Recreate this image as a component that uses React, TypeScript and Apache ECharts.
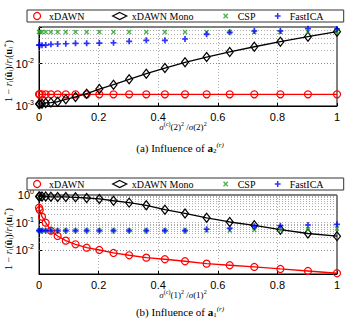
import React, { useEffect, useRef } from 'react';
import * as echarts from 'echarts';

// x positions (sigma ratio)
const xValues = [0, 0.0025, 0.01, 0.0225, 0.04, 0.0625, 0.09, 0.1225, 0.16, 0.2025, 0.25, 0.3025, 0.36, 0.4225, 0.49, 0.5625, 0.64, 0.7225, 0.81, 0.9025, 1];

// (a) Influence of a2
const aXdawn = [0.00188, 0.00188, 0.00188, 0.00188, 0.00188, 0.00188, 0.00188, 0.00188, 0.00188, 0.00188, 0.00188, 0.00188, 0.00188, 0.00188, 0.00188, 0.00188, 0.00188, 0.00188, 0.00188, 0.00188, 0.00188];
const aMono = [0.00111, 0.00111, 0.00113, 0.00118, 0.0012, 0.00126, 0.00144, 0.00163, 0.00195, 0.00251, 0.00317, 0.00425, 0.00575, 0.00783, 0.0107, 0.0142, 0.0187, 0.0248, 0.0326, 0.0428, 0.056];
const aCsp = [0.055, 0.055, 0.055, 0.055, 0.055, 0.055, 0.055, 0.055, 0.055, 0.055, 0.055, 0.055, 0.055, 0.055, 0.055, 0.055, 0.055, 0.055, 0.055, 0.055, 0.056];
const aIca = [0.027, 0.027, 0.0268, 0.0272, 0.0283, 0.0288, 0.0292, 0.0299, 0.0299, 0.0303, 0.0308, 0.0333, 0.0351, 0.0351, 0.0377, 0.0486, 0.0542, 0.0582, 0.0582, 0.0659, 0.0649];

// (b) Influence of a1
const bXdawn = [0.348, 0.287, 0.165, 0.1, 0.0514, 0.0331, 0.0224, 0.0166, 0.0125, 0.0103, 0.00805, 0.00665, 0.00545, 0.00477, 0.00404, 0.00331, 0.0029, 0.00252, 0.00213, 0.0018, 0.00149];
const bMono = [0.88, 0.88, 0.88, 0.88, 0.86, 0.85, 0.85, 0.826, 0.78, 0.72, 0.62, 0.53, 0.425, 0.294, 0.215, 0.15, 0.106, 0.0805, 0.0559, 0.0407, 0.0326];
const bCsp = [0.052, 0.052, 0.052, 0.052, 0.052, 0.052, 0.052, 0.052, 0.052, 0.052, 0.052, 0.052, 0.052, 0.052, 0.052, 0.052, 0.052, 0.0546, 0.053, 0.0568, 0.062];
const bIca = [0.0514, 0.0514, 0.0514, 0.0514, 0.0514, 0.0514, 0.0514, 0.0514, 0.0514, 0.0514, 0.0514, 0.0514, 0.0514, 0.0514, 0.0514, 0.0578, 0.0628, 0.075, 0.078, 0.0826, 0.0875];

const seriesNames = ['xDAWN', 'xDAWN Mono', 'CSP', 'FastICA'];
const xTicks = [0, 0.2, 0.4, 0.6, 0.8, 1];
const minorMultipliers = [2, 3, 4, 5, 6, 7, 8, 9];
const decades = [0.001, 0.01, 0.1];

const RED = '#ff0000';
const BLACK = '#000000';
const GREEN = '#1ea01e';
const BLUE = '#0000ff';
const X_ICON = 'path://M0,0L10,10M10,0L0,10';
const PLUS_ICON = 'path://M5,0L5,10M0,5L10,5';
const X_LEGEND = 'path://M-3,-3L-3,-3M13,13L13,13M0,0L10,10M10,0L0,10';
const PLUS_LEGEND = 'path://M-1,-1L-1,-1M11,11L11,11M5,0L5,10M0,5L10,5';

const pairs = (ys: number[]) => xValues.map((x, i) => [x, ys[i]]);

function minorLines(min: number, max: number) {
  const out: { yAxis: number }[] = [];
  decades.forEach((d) => minorMultipliers.forEach((m) => {
    const v = +(d * m).toPrecision(6);
    if (v > min && v < max) out.push({ yAxis: v });
  }));
  return out;
}

const gridLine = { color: '#8a8a8a', type: [1, 2] as number[], width: 0.7 };

function yLabelFormatter(v: number) {
  const e = Math.log10(v);
  const r = Math.round(e);
  if (Math.abs(e - r) > 1e-6) return '';
  return `{b|10}{s|${r}}`;
}

const App: React.FC = () => {
  const ref = useRef<HTMLDivElement>(null);

  useEffect(() => {
    if (!ref.current) return;
    const chart = echarts.init(ref.current, undefined, { renderer: 'svg' });

    const plots = [
      { top: 27, ymin: 0.001, ymax: 0.0723, data: [aXdawn, aMono, aCsp, aIca], idx: '2', legendTop: 10, caption: '(a)', capY: 148 },
      { top: 195, ymin: 0.0014, ymax: 1, data: [bXdawn, bMono, bCsp, bIca], idx: '1', legendTop: 178, caption: '(b)', capY: 312 },
    ];

    const legendWidths: Record<string, number> = { 'xDAWN': 63, 'xDAWN Mono': 88, 'CSP': 34, 'FastICA': 46 };
    const legendKeys: Record<string, string> = { 'xDAWN': 'w0', 'xDAWN Mono': 'w1', 'CSP': 'w2', 'FastICA': 'w3' };
    const legendRich: any = {};
    seriesNames.forEach((n) => {
      legendRich[legendKeys[n]] = { width: legendWidths[n], fontSize: 10, fontFamily: 'Liberation Serif', color: '#000', lineHeight: 10 };
    });

    const legendData = [
      { name: seriesNames[0], icon: 'circle', itemStyle: { color: 'transparent', borderColor: RED, borderWidth: 1.2 } },
      { name: seriesNames[1], icon: 'diamond', itemStyle: { color: 'transparent', borderColor: BLACK, borderWidth: 1.2 } },
      { name: seriesNames[2], icon: X_LEGEND, itemStyle: { color: 'none', borderColor: GREEN, borderWidth: 1.4 } },
      { name: seriesNames[3], icon: PLUS_LEGEND, itemStyle: { color: 'none', borderColor: BLUE, borderWidth: 1.5 } },
    ];

    const supRich = {
      n: { fontSize: 9, fontFamily: 'Liberation Serif', color: '#000', lineHeight: 12 },
      i: { fontSize: 9, fontFamily: 'Liberation Serif', fontStyle: 'italic', color: '#000', lineHeight: 12 },
      s: { fontSize: 6, fontFamily: 'Liberation Serif', fontStyle: 'italic', color: '#000', lineHeight: 7, verticalAlign: 'top' },
      p: { fontSize: 6, fontFamily: 'Liberation Serif', color: '#000', lineHeight: 7, verticalAlign: 'top' },
    };

    const series: any[] = [];
    plots.forEach((p, gi) => {
      series.push({
        name: seriesNames[0], type: 'line', xAxisIndex: gi, yAxisIndex: gi, data: pairs(p.data[0]),
        symbol: 'circle', symbolSize: 7, showAllSymbol: true,
        itemStyle: { color: 'transparent', borderColor: RED, borderWidth: 1.2 },
        lineStyle: { color: RED, width: 1.3 }, z: 3,
      });
      series.push({
        name: seriesNames[1], type: 'line', xAxisIndex: gi, yAxisIndex: gi, data: pairs(p.data[1]),
        symbol: 'diamond', symbolSize: [7, 9], showAllSymbol: true,
        itemStyle: { color: 'transparent', borderColor: BLACK, borderWidth: 1.2 },
        lineStyle: { color: BLACK, width: 1.3 }, z: 4,
      });
      series.push({
        name: seriesNames[2], type: 'scatter', xAxisIndex: gi, yAxisIndex: gi, data: pairs(p.data[2]),
        symbol: X_ICON, symbolSize: 4,
        itemStyle: { color: 'none', borderColor: GREEN, borderWidth: 1.4 }, z: 5,
      });
      series.push({
        name: seriesNames[3], type: 'scatter', xAxisIndex: gi, yAxisIndex: gi, data: pairs(p.data[3]),
        symbol: PLUS_ICON, symbolSize: 6,
        itemStyle: { color: 'none', borderColor: BLUE, borderWidth: 1.7 }, z: 6,
      });
      series.push({
        type: 'line', xAxisIndex: gi, yAxisIndex: gi, data: [], silent: true,
        markLine: {
          silent: true, symbol: ['none', 'none'], label: { show: false }, z: 1,
          lineStyle: gridLine, emphasis: { disabled: true },
          data: minorLines(p.ymin, p.ymax),
        },
      });
    });

    chart.setOption({
      animation: false,
      grid: plots.map((p) => ({
        left: 39, right: 12, top: p.top, height: 79, show: true,
        containLabel: false, outerBoundsMode: 'none',
        borderColor: '#000', borderWidth: 1, backgroundColor: 'transparent',
      })),
      legend: plots.map((p) => ({
        top: p.legendTop, left: 27, orient: 'horizontal', itemGap: 0,
        itemWidth: 14, itemHeight: 7, padding: [0, 8, 0, 6],
        borderColor: '#333', borderWidth: 1, backgroundColor: '#fff',
        selectedMode: false, data: legendData,
        formatter: (name: string) => `{${legendKeys[name]}|${name}}`,
        textStyle: { fontFamily: 'Liberation Serif', fontSize: 10, color: '#000', rich: legendRich },
      })),
      xAxis: plots.map((p, gi) => ({
        type: 'value', gridIndex: gi, min: 0, max: 1, interval: 0.2,
        axisLine: { show: true, lineStyle: { color: '#000', width: 1 } },
        axisTick: { show: true, inside: true, length: 3, lineStyle: { color: '#000' } },
        axisLabel: {
          color: '#000', fontSize: 11, fontFamily: 'Liberation Sans', margin: 5,
          formatter: (v: number) => (xTicks.includes(+v.toFixed(4)) ? String(+v.toFixed(4)) : ''),
        },
        splitLine: { show: true, lineStyle: gridLine },
        name: `{i|σ}{p|(c)}{n|(${p.idx})}{p|2}{n| /}{i|σ}{n|(${p.idx})}{p|2}`,
        nameLocation: 'middle', nameGap: 15, nameMoveOverlap: false,
        nameTextStyle: { rich: supRich, padding: [0, 10, 0, 0] },
      })),
      yAxis: plots.map((p, gi) => ({
        type: 'log', logBase: 10, gridIndex: gi, min: p.ymin, max: p.ymax,
        axisLine: { show: true, lineStyle: { color: '#000', width: 1 } },
        axisTick: { show: true, inside: true, length: 3, lineStyle: { color: '#000' } },
        axisLabel: {
          margin: 5, formatter: yLabelFormatter,
          rich: {
            b: { fontSize: 11, fontFamily: 'Liberation Sans', color: '#000', lineHeight: 14 },
            s: { fontSize: 7, fontFamily: 'Liberation Sans', color: '#000', lineHeight: 8, verticalAlign: 'top' },
          },
        },
        splitLine: { show: true, lineStyle: gridLine },
        name: '{n|1 − }{i|r}{s|i}{n|(}{u|û}{s|i}{n|)/}{i|r}{s|i}{n|(}{u|u}{s|i}{p|*}{n|)}',
        nameLocation: 'middle', nameGap: 25, nameRotate: 90, nameMoveOverlap: false,
        nameTextStyle: {
          padding: [0, 9, 0, 0],
          rich: {
            n: { fontSize: 10, fontFamily: 'Liberation Serif', color: '#000', lineHeight: 12 },
            i: { fontSize: 10, fontFamily: 'Liberation Serif', fontStyle: 'italic', color: '#000', lineHeight: 12 },
            u: { fontSize: 10, fontFamily: 'Liberation Serif', fontWeight: 'bold', color: '#000', lineHeight: 12 },
            s: { fontSize: 7, fontFamily: 'Liberation Serif', fontStyle: 'italic', color: '#000', lineHeight: 7, verticalAlign: 'bottom' },
            p: { fontSize: 7, fontFamily: 'Liberation Serif', color: '#000', lineHeight: 7, verticalAlign: 'top' },
          },
        },
      })),
      graphic: plots.map((p) => ({
        type: 'text', x: 180, y: p.capY,
        style: {
          text: `{n|${p.caption} Influence of }{b|a}{d|${p.idx}}{p|(r)}`,
          align: 'center', verticalAlign: 'middle',
          rich: {
            n: { fontSize: 11, fontFamily: 'Liberation Serif', fill: '#000', lineHeight: 13 },
            b: { fontSize: 11, fontFamily: 'Liberation Serif', fontWeight: 'bold', fill: '#000', lineHeight: 13 },
            d: { fontSize: 7, fontFamily: 'Liberation Serif', fill: '#000', lineHeight: 7, verticalAlign: 'bottom' },
            p: { fontSize: 7, fontFamily: 'Liberation Serif', fontStyle: 'italic', fill: '#000', lineHeight: 7, verticalAlign: 'top' },
          },
        },
      })),
      series,
    });

    return () => chart.dispose();
  }, []);

  return <div ref={ref} style={{ position: 'fixed', left: 0, top: 0, width: 349, height: 320, background: '#fff' }} />;
};

export default App;
